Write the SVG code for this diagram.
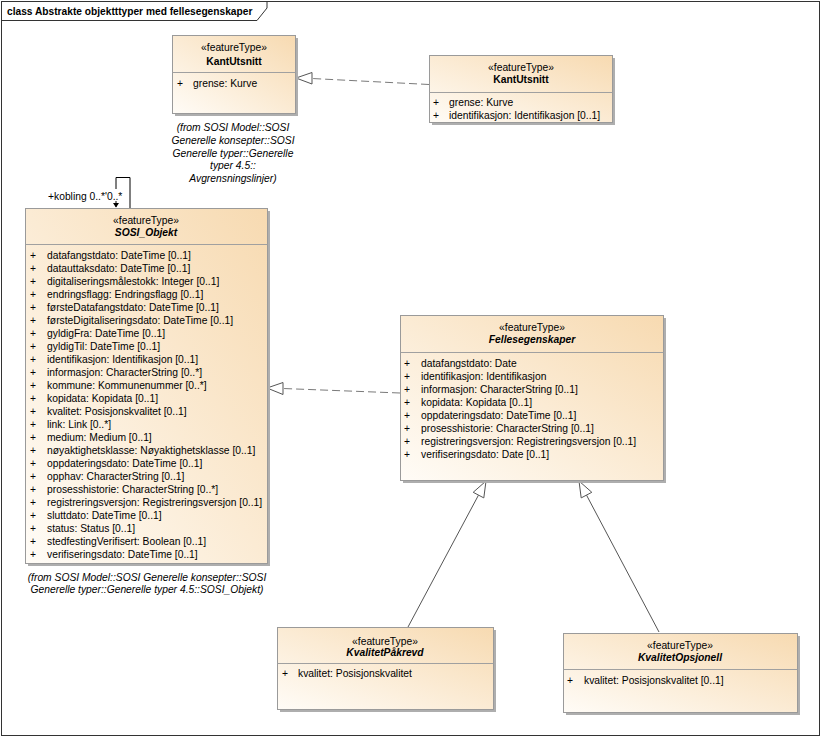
<svg xmlns="http://www.w3.org/2000/svg" width="822" height="738" viewBox="0 0 822 738">
<defs>
<linearGradient id="fill" x1="0" y1="1" x2="1" y2="0">
<stop offset="0" stop-color="#FFFCF7"/>
<stop offset="1" stop-color="#F7DAB1"/>
</linearGradient>
</defs>
<style>
text{font-family:"Liberation Sans",Arial,sans-serif;font-size:10.3px;fill:#000}
.c{text-anchor:middle}
.b{font-weight:bold}
.i{font-style:italic}
.box{fill:url(#fill);stroke:#9A9A9A;stroke-width:1}
.sh{fill:#AEAEAE}
.div{stroke:#A0A0A0;stroke-width:1}
.dash{fill:none;stroke:#7A7A7A;stroke-width:1;stroke-dasharray:8,4}
.solid{fill:none;stroke:#555;stroke-width:1}
.tri{fill:#fff;stroke:#555;stroke-width:1}
</style>
<rect x="0" y="0" width="822" height="738" fill="#fff"/>
<g id="frame">
<rect x="1.5" y="1.5" width="818" height="734" fill="none" stroke="#333" stroke-width="1"/>
<path d="M1.5,20.5 H257 L267,8 V1.5" fill="none" stroke="#333" stroke-width="1"/>
<text x="7" y="14.5" class="b" style="font-size:10.2px">class Abstrakte objektttyper med fellesegenskaper</text>
</g>
<g id="connectors">
<path class="dash" d="M429,84.5 L312,78.5"/>
<polygon class="tri" points="296,78 312,72.5 312,84"/>
<path class="dash" d="M400,393 L283,388.5"/>
<polygon class="tri" points="267,388 283,382.5 283,394.5"/>
<path class="solid" d="M408,627 L478.5,495.1"/>
<polygon class="tri" points="486,481 483.8,497.9 473.2,492.3"/>
<path class="solid" d="M659,632 L586.5,495.1"/>
<polygon class="tri" points="579,481 581.2,497.9 591.8,492.3"/>
<path class="solid" style="stroke:#000" d="M130,208 V177.5 H116 V189"/>
<path class="solid" style="stroke:#000" d="M116,201 V207"/>
<path d="M113,203 L116,207.5 L119,203 Z" fill="#000"/>
<text x="48" y="200">+kobling 0..*'0..*</text>
</g>
<g id="KantUtsnitt1">
<rect class="sh" x="175" y="38" width="123" height="78"/>
<rect class="box" x="172.5" y="35.5" width="123" height="78"/>
<line class="div" x1="172.5" y1="72.5" x2="295.5" y2="72.5"/>
<text class="c" x="234" y="51">«featureType»</text>
<text class="c b" x="234" y="64.5">KantUtsnitt</text>
<text x="177" y="86.5">+</text>
<text x="193" y="86.5">grense: Kurve</text>
<text class="c i" x="233" y="130.5">(from SOSI Model::SOSI</text>
<text class="c i" x="233" y="143.5">Generelle konsepter::SOSI</text>
<text class="c i" x="233" y="156.5">Generelle typer::Generelle</text>
<text class="c i" x="233" y="169">typer 4.5::</text>
<text class="c i" x="233" y="181.5">Avgrensningslinjer)</text>
</g>
<g id="KantUtsnitt2">
<rect class="sh" x="432" y="58" width="183" height="67"/>
<rect class="box" x="429.5" y="55.5" width="183" height="67"/>
<line class="div" x1="429.5" y1="92.5" x2="612.5" y2="92.5"/>
<text class="c" x="521" y="70.5">«featureType»</text>
<text class="c b" x="521" y="83">KantUtsnitt</text>
<text x="433" y="106">+</text>
<text x="449" y="106">grense: Kurve</text>
<text x="433" y="119">+</text>
<text x="449" y="119">identifikasjon: Identifikasjon [0..1]</text>
</g>
<g id="SOSI_Objekt">
<rect class="sh" x="28" y="211" width="242" height="355"/>
<rect class="box" x="25.5" y="208.5" width="242" height="355"/>
<line class="div" x1="25.5" y1="244.5" x2="267.5" y2="244.5"/>
<text class="c" x="146" y="223.5">«featureType»</text>
<text class="c b i" x="146" y="236">SOSI_Objekt</text>
<text x="30">
<tspan x="30" y="258.5">+</tspan><tspan x="30" y="271.5">+</tspan><tspan x="30" y="284.5">+</tspan><tspan x="30" y="297.5">+</tspan><tspan x="30" y="310.5">+</tspan><tspan x="30" y="323.5">+</tspan><tspan x="30" y="336.5">+</tspan><tspan x="30" y="349.5">+</tspan><tspan x="30" y="362.5">+</tspan><tspan x="30" y="375.5">+</tspan><tspan x="30" y="388.5">+</tspan><tspan x="30" y="401.5">+</tspan><tspan x="30" y="414.5">+</tspan><tspan x="30" y="427.5">+</tspan><tspan x="30" y="440.5">+</tspan><tspan x="30" y="453.5">+</tspan><tspan x="30" y="466.5">+</tspan><tspan x="30" y="479.5">+</tspan><tspan x="30" y="492.5">+</tspan><tspan x="30" y="505.5">+</tspan><tspan x="30" y="518.5">+</tspan><tspan x="30" y="531.5">+</tspan><tspan x="30" y="544.5">+</tspan><tspan x="30" y="557.5">+</tspan>
</text>
<text>
<tspan x="47" y="258.5">datafangstdato: DateTime [0..1]</tspan>
<tspan x="47" y="271.5">datauttaksdato: DateTime [0..1]</tspan>
<tspan x="47" y="284.5">digitaliseringsmålestokk: Integer [0..1]</tspan>
<tspan x="47" y="297.5">endringsflagg: Endringsflagg [0..1]</tspan>
<tspan x="47" y="310.5">førsteDatafangstdato: DateTime [0..1]</tspan>
<tspan x="47" y="323.5">førsteDigitaliseringsdato: DateTime [0..1]</tspan>
<tspan x="47" y="336.5">gyldigFra: DateTime [0..1]</tspan>
<tspan x="47" y="349.5">gyldigTil: DateTime [0..1]</tspan>
<tspan x="47" y="362.5">identifikasjon: Identifikasjon [0..1]</tspan>
<tspan x="47" y="375.5">informasjon: CharacterString [0..*]</tspan>
<tspan x="47" y="388.5">kommune: Kommunenummer [0..*]</tspan>
<tspan x="47" y="401.5">kopidata: Kopidata [0..1]</tspan>
<tspan x="47" y="414.5">kvalitet: Posisjonskvalitet [0..1]</tspan>
<tspan x="47" y="427.5">link: Link [0..*]</tspan>
<tspan x="47" y="440.5">medium: Medium [0..1]</tspan>
<tspan x="47" y="453.5">nøyaktighetsklasse: Nøyaktighetsklasse [0..1]</tspan>
<tspan x="47" y="466.5">oppdateringsdato: DateTime [0..1]</tspan>
<tspan x="47" y="479.5">opphav: CharacterString [0..1]</tspan>
<tspan x="47" y="492.5">prosesshistorie: CharacterString [0..*]</tspan>
<tspan x="47" y="505.5">registreringsversjon: Registreringsversjon [0..1]</tspan>
<tspan x="47" y="518.5">sluttdato: DateTime [0..1]</tspan>
<tspan x="47" y="531.5">status: Status [0..1]</tspan>
<tspan x="47" y="544.5">stedfestingVerifisert: Boolean [0..1]</tspan>
<tspan x="47" y="557.5">verifiseringsdato: DateTime [0..1]</tspan>
</text>
<text class="c i" x="147" y="581">(from SOSI Model::SOSI Generelle konsepter::SOSI</text>
<text class="c i" x="147" y="593">Generelle typer::Generelle typer 4.5::SOSI_Objekt)</text>
</g>
<g id="Fellesegenskaper">
<rect class="sh" x="403" y="318" width="263" height="165"/>
<rect class="box" x="400.5" y="315.5" width="263" height="165"/>
<line class="div" x1="400.5" y1="352.5" x2="663.5" y2="352.5"/>
<text class="c" x="532" y="330.5">«featureType»</text>
<text class="c b i" x="532" y="343">Fellesegenskaper</text>
<text>
<tspan x="404" y="366.5">+</tspan><tspan x="404" y="379.5">+</tspan><tspan x="404" y="392.5">+</tspan><tspan x="404" y="405.5">+</tspan><tspan x="404" y="418.5">+</tspan><tspan x="404" y="431.5">+</tspan><tspan x="404" y="444.5">+</tspan><tspan x="404" y="457.5">+</tspan>
</text>
<text>
<tspan x="421" y="366.5">datafangstdato: Date</tspan>
<tspan x="421" y="379.5">identifikasjon: Identifikasjon</tspan>
<tspan x="421" y="392.5">informasjon: CharacterString [0..1]</tspan>
<tspan x="421" y="405.5">kopidata: Kopidata [0..1]</tspan>
<tspan x="421" y="418.5">oppdateringsdato: DateTime [0..1]</tspan>
<tspan x="421" y="431.5">prosesshistorie: CharacterString [0..1]</tspan>
<tspan x="421" y="444.5">registreringsversjon: Registreringsversjon [0..1]</tspan>
<tspan x="421" y="457.5">verifiseringsdato: Date [0..1]</tspan>
</text>
</g>
<g id="KvalitetPaakrevd">
<rect class="sh" x="280" y="630" width="216" height="82"/>
<rect class="box" x="277.5" y="627.5" width="216" height="82"/>
<line class="div" x1="277.5" y1="663.5" x2="493.5" y2="663.5"/>
<text class="c" x="385" y="644.5">«featureType»</text>
<text class="c b i" x="385" y="656">KvalitetPåkrevd</text>
<text x="282" y="677">+</text>
<text x="298" y="677">kvalitet: Posisjonskvalitet</text>
</g>
<g id="KvalitetOpsjonell">
<rect class="sh" x="566" y="636" width="234" height="79"/>
<rect class="box" x="563.5" y="633.5" width="234" height="79"/>
<line class="div" x1="563.5" y1="669.5" x2="797.5" y2="669.5"/>
<text class="c" x="680" y="648.5">«featureType»</text>
<text class="c b i" x="680" y="661">KvalitetOpsjonell</text>
<text x="567" y="683.5">+</text>
<text x="584" y="683.5">kvalitet: Posisjonskvalitet [0..1]</text>
</g>
</svg>
